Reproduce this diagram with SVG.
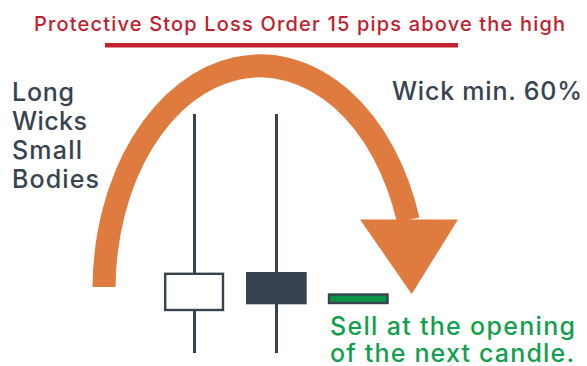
<svg xmlns="http://www.w3.org/2000/svg" width="587" height="366" viewBox="0 0 587 366">
<style>
  text { font-family: Inter, "Open Sans", "Liberation Sans", sans-serif; font-weight: 500; }
  .title { fill: #c1202f; font-size: 20px; }
  .dark { fill: #37434f; font-size: 25px; }
  .green { fill: #12a04f; font-size: 25px; }
  .wick { stroke: #37434f; stroke-width: 3; }
</style>
<rect width="587" height="366" fill="#ffffff"/>
<g id="title">
  <text class="title" x="34" y="30.7" textLength="531" lengthAdjust="spacing">Protective Stop Loss Order 15 pips above the high</text>
  <rect x="105" y="43" width="353" height="4.5" fill="#c1202f"/>
</g>
<g id="label-left">
  <text class="dark" x="12" y="101" textLength="62" lengthAdjust="spacing">Long</text>
  <text class="dark" x="12" y="130" textLength="75" lengthAdjust="spacing">Wicks</text>
  <text class="dark" x="12" y="159" textLength="70" lengthAdjust="spacing">Small</text>
  <text class="dark" x="12" y="188" textLength="87" lengthAdjust="spacing">Bodies</text>
</g>
<g id="label-wick">
  <text class="dark" x="392" y="100" textLength="190" lengthAdjust="spacing">Wick min. 60%</text>
</g>
<g id="connectors">
  <path d="M104,287 A156,224 0 0 1 408.2,220" fill="none" stroke="#e07b3f" stroke-width="23"/>
  <polygon points="360,219.5 458,219.5 411.7,294" fill="#e07b3f"/>
</g>
<g id="candle-white">
  <line class="wick" x1="194.5" y1="114" x2="194.5" y2="353"/>
  <rect x="165.2" y="273.8" width="57.8" height="36.2" fill="#ffffff" stroke="#37434f" stroke-width="2.4"/>
</g>
<g id="candle-dark">
  <line class="wick" x1="276.5" y1="114" x2="276.5" y2="353"/>
  <rect x="246" y="272" width="60.7" height="32.3" fill="#37434f"/>
</g>
<g id="candle-entry">
  <rect x="329" y="294.5" width="58.5" height="8.5" fill="#0c9447" stroke="#37434f" stroke-width="2.4"/>
</g>
<g id="label-sell">
  <text class="green" x="330" y="335" textLength="245" lengthAdjust="spacing">Sell at the opening</text>
  <text class="green" x="330" y="361.7" textLength="244" lengthAdjust="spacing">of the next candle.</text>
</g>
</svg>
